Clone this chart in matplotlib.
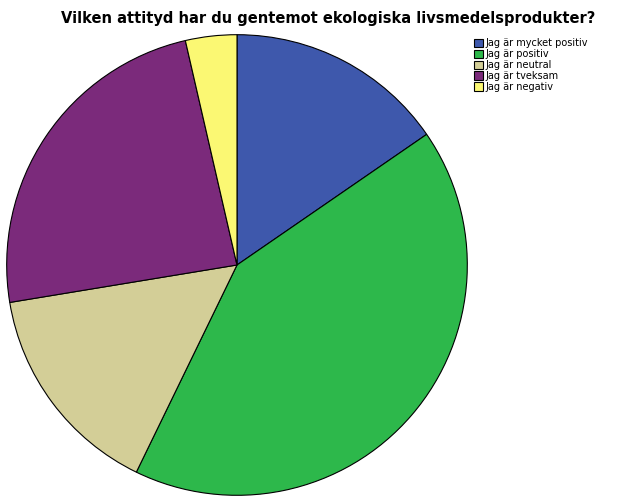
import matplotlib
matplotlib.use("Agg")
import matplotlib.pyplot as plt

labels = ["Jag är mycket positiv", "Jag är positiv", "Jag är neutral", "Jag är tveksam", "Jag är negativ"]
values = [15.4, 41.8, 15.2, 24.0, 3.6]
colors = ["#3e58ac", "#2db84b", "#d3ce97", "#7b2a7b", "#fbf873"]

fig = plt.figure(figsize=(6.26, 5.01), dpi=100)
ax = fig.add_axes([237/626 - 231/626, 1 - (265+231)/501, 462/626, 462/501])
wedges, _ = ax.pie(values, colors=colors, startangle=90, counterclock=False,
                   wedgeprops=dict(edgecolor="black", linewidth=0.8))
ax.set_xlim(-1.003, 1.003)
ax.set_ylim(-1.003, 1.003)
ax.set_aspect("equal")
fig.text(0.525, 0.978, "Vilken attityd har du gentemot ekologiska livsmedelsprodukter?",
         ha="center", va="top", fontsize=10.5, fontweight="bold")
fig.legend(wedges, labels, loc="upper left", bbox_to_anchor=(0.751, 0.932),
           fontsize=7, frameon=False, handlelength=0.9, handleheight=0.9,
           labelspacing=0.1, handletextpad=0.3, borderaxespad=0)
fig.savefig("out.png", dpi=100)
